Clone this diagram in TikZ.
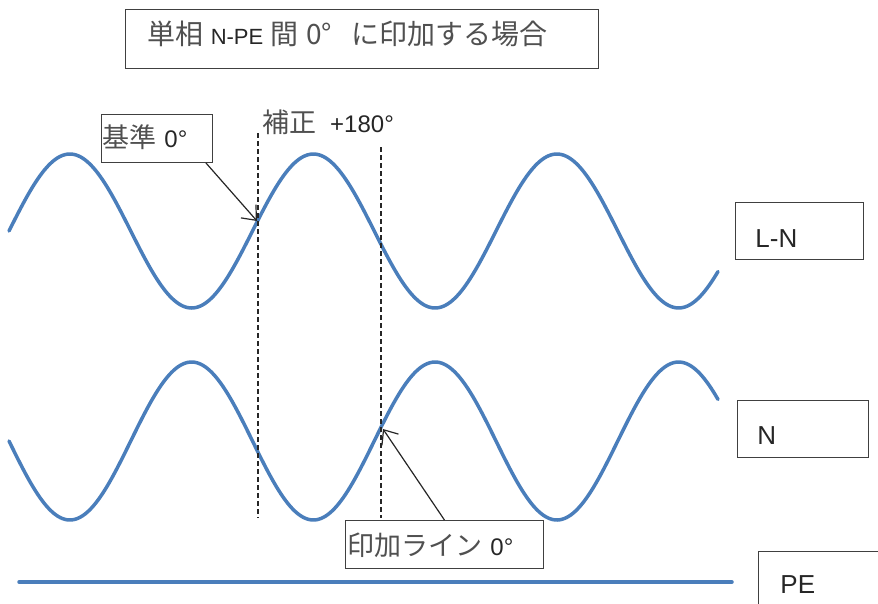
\documentclass[tikz,border=0pt]{standalone}
\usepackage{fontspec}
\setmainfont{Liberation Sans}
\newfontfamily\jpfont{Noto Sans CJK JP}
\usetikzlibrary{arrows.meta}
\definecolor{waveBlue}{HTML}{4A7EBB}
\definecolor{tagRule}{HTML}{404040}
\definecolor{tagText}{HTML}{262626}
\definecolor{jaText}{HTML}{505050}
\newcommand\ja[2][27]{{\jpfont\fontsize{#1}{#1}\selectfont\color{jaText}#2}}

\begin{document}
\begin{tikzpicture}[x=1pt, y=-1pt,
    wave/.style={draw=waveBlue, line width=3.5pt, line cap=round},
    tag/.style={draw=tagRule, line width=0.9pt, anchor=north west,
                inner ysep=0pt, align=left, text=tagText},
    guide/.style={draw=black!85, line width=1.2pt, dash pattern=on 5pt off 3pt},
    ptr/.style={-{Straight Barb[length=12pt, width=20pt]}, draw=black!85, line width=1.2pt}]

    \clip (0,0) rectangle (878,603);

    % title
    \node[tag, inner xsep=22pt, text width=429pt, text height=35pt, text depth=24pt,
          font=\fontsize{22}{26}\selectfont] (title) at (125,9)
          {\ja[28]{単相} N-PE \ja[28]{間} \ja[28]{0°}\hspace{20pt}\ja[28]{に印加する場合}};

    % waves
    \draw[wave] plot[domain=9:718, samples=160, smooth] (\x, {231-77*sin((\x-9)/243.5*360)});
    \draw[wave] plot[domain=9:718, samples=160, smooth] (\x, {441+79*sin((\x-9)/243.5*360)});
    \draw[wave] (19,582) -- (732,582);

    % dashed markers
    \coordinate (d1top) at (258,133);
    \coordinate (d1bot) at (258,518);
    \coordinate (d2top) at (381,147);
    \coordinate (d2bot) at (381,518);
    \draw[guide] (d1top) -- (d1bot);
    \draw[guide] (d2top) -- (d2bot);

    % labels
    \node[tag, inner xsep=1pt, text width=109pt, text height=33pt, text depth=15pt,
          font=\fontsize{24}{28}\selectfont] (ref) at (101,114) {\ja{基準} 0°};
    \node[anchor=base west, inner sep=0pt, text=tagText,
          font=\fontsize{24}{28}\selectfont] (shift) at (262,132) {\ja{補正}\hspace{14pt}+180°};
    \node[tag, inner xsep=2pt, text width=194pt, text height=35pt, text depth=13pt,
          font=\fontsize{24}{28}\selectfont] (apply) at (345,520) {\ja{印加ライン} 0°};

    \node[tag, inner xsep=20pt, text width=88pt, text height=45pt, text depth=12pt,
          font=\fontsize{26}{30}\selectfont] (ln) at (735,202) {L-N};
    \node[tag, inner xsep=20pt, text width=91pt, text height=44pt, text depth=13pt,
          font=\fontsize{26}{30}\selectfont] (n) at (737,400) {N};
    \node[tag, inner xsep=22pt, text width=150pt, text height=42pt, text depth=30pt,
          font=\fontsize{26}{30}\selectfont] (pe) at (758,551) {PE};

    % pointers
    \coordinate (refpt) at (257,221);
    \coordinate (applypt) at (383,429);
    \draw[ptr] ([xshift=-7pt]ref.south east) -- (refpt);
    \draw[ptr] (apply.north) -- (applypt);
\end{tikzpicture}
\end{document}
